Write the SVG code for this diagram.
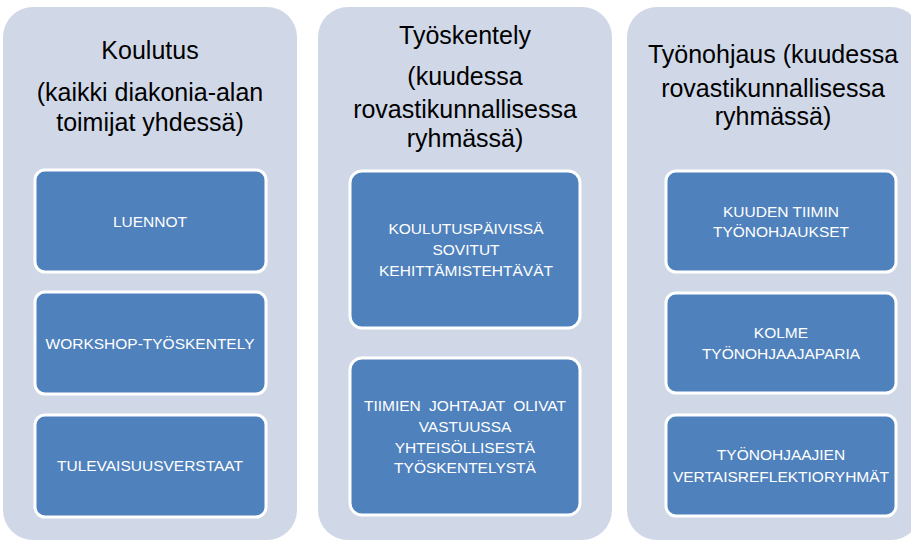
<svg xmlns="http://www.w3.org/2000/svg" width="911" height="541" viewBox="0 0 911 541">
<style>
.bg{fill:#D0D8E8;}
.box{fill:#4F81BD;stroke:#FFFFFF;stroke-width:3;}
.hd{font-family:"Liberation Sans",Arial,sans-serif;font-size:25px;fill:#000;text-anchor:middle;}
.bt{font-family:"Liberation Sans",Arial,sans-serif;font-size:15.5px;fill:#FFFFFF;text-anchor:middle;}
</style>
<rect width="911" height="541" fill="#FFFFFF"/>
<g id="col-koulutus">
<rect class="bg" x="3" y="7" width="294" height="533" rx="30"/>
<text class="hd" x="150" y="59">Koulutus</text>
<text class="hd" x="150" y="101">(kaikki diakonia-alan</text>
<text class="hd" x="150" y="131">toimijat yhdessä)</text>
</g>
<g id="col-tyoskentely">
<rect class="bg" x="318" y="7" width="294" height="533" rx="30"/>
<text class="hd" x="465" y="44">Työskentely</text>
<text class="hd" x="465" y="85">(kuudessa</text>
<text class="hd" x="465" y="118">rovastikunnallisessa</text>
<text class="hd" x="465" y="147">ryhmässä)</text>
</g>
<g id="col-tyonohjaus">
<rect class="bg" x="627" y="7" width="294" height="533" rx="30"/>
<text class="hd" x="773" y="63">Työnohjaus (kuudessa</text>
<text class="hd" x="773" y="97">rovastikunnallisessa</text>
<text class="hd" x="773" y="125">ryhmässä)</text>
</g>
<g id="n-luennot">
<rect class="box" x="35" y="170" width="231" height="102" rx="10"/>
<text class="bt" x="150" y="227">LUENNOT</text>
</g>
<g id="n-workshop">
<rect class="box" x="35" y="292" width="231" height="102" rx="10"/>
<text class="bt" x="150" y="349">WORKSHOP-TYÖSKENTELY</text>
</g>
<g id="n-tulevaisuus">
<rect class="box" x="35" y="415" width="231" height="102" rx="10"/>
<text class="bt" x="150" y="471">TULEVAISUUSVERSTAAT</text>
</g>
<g id="n-kehittamis">
<rect class="box" x="350" y="171" width="230" height="157" rx="12"/>
<text class="bt" x="466" y="234">KOULUTUSPÄIVISSÄ</text>
<text class="bt" x="466" y="255">SOVITUT</text>
<text class="bt" x="466" y="276">KEHITTÄMISTEHTÄVÄT</text>
</g>
<g id="n-tiimien">
<rect class="box" x="350" y="358" width="230" height="157" rx="12"/>
<text class="bt" x="465" y="411" word-spacing="4">TIIMIEN JOHTAJAT OLIVAT</text>
<text class="bt" x="465" y="432">VASTUUSSA</text>
<text class="bt" x="465" y="453">YHTEISÖLLISESTÄ</text>
<text class="bt" x="465" y="473">TYÖSKENTELYSTÄ</text>
</g>
<g id="n-kuuden">
<rect class="box" x="666" y="171" width="230" height="101" rx="10"/>
<text class="bt" x="781" y="217">KUUDEN TIIMIN</text>
<text class="bt" x="781" y="237">TYÖNOHJAUKSET</text>
</g>
<g id="n-kolme">
<rect class="box" x="666" y="293" width="230" height="100" rx="10"/>
<text class="bt" x="781" y="338">KOLME</text>
<text class="bt" x="781" y="359">TYÖNOHJAAJAPARIA</text>
</g>
<g id="n-vertais">
<rect class="box" x="666" y="415" width="230" height="101" rx="10"/>
<text class="bt" x="781" y="460">TYÖNOHJAAJIEN</text>
<text class="bt" x="781" y="482">VERTAISREFLEKTIORYHMÄT</text>
</g>
<g id="connectors"></g>
</svg>
